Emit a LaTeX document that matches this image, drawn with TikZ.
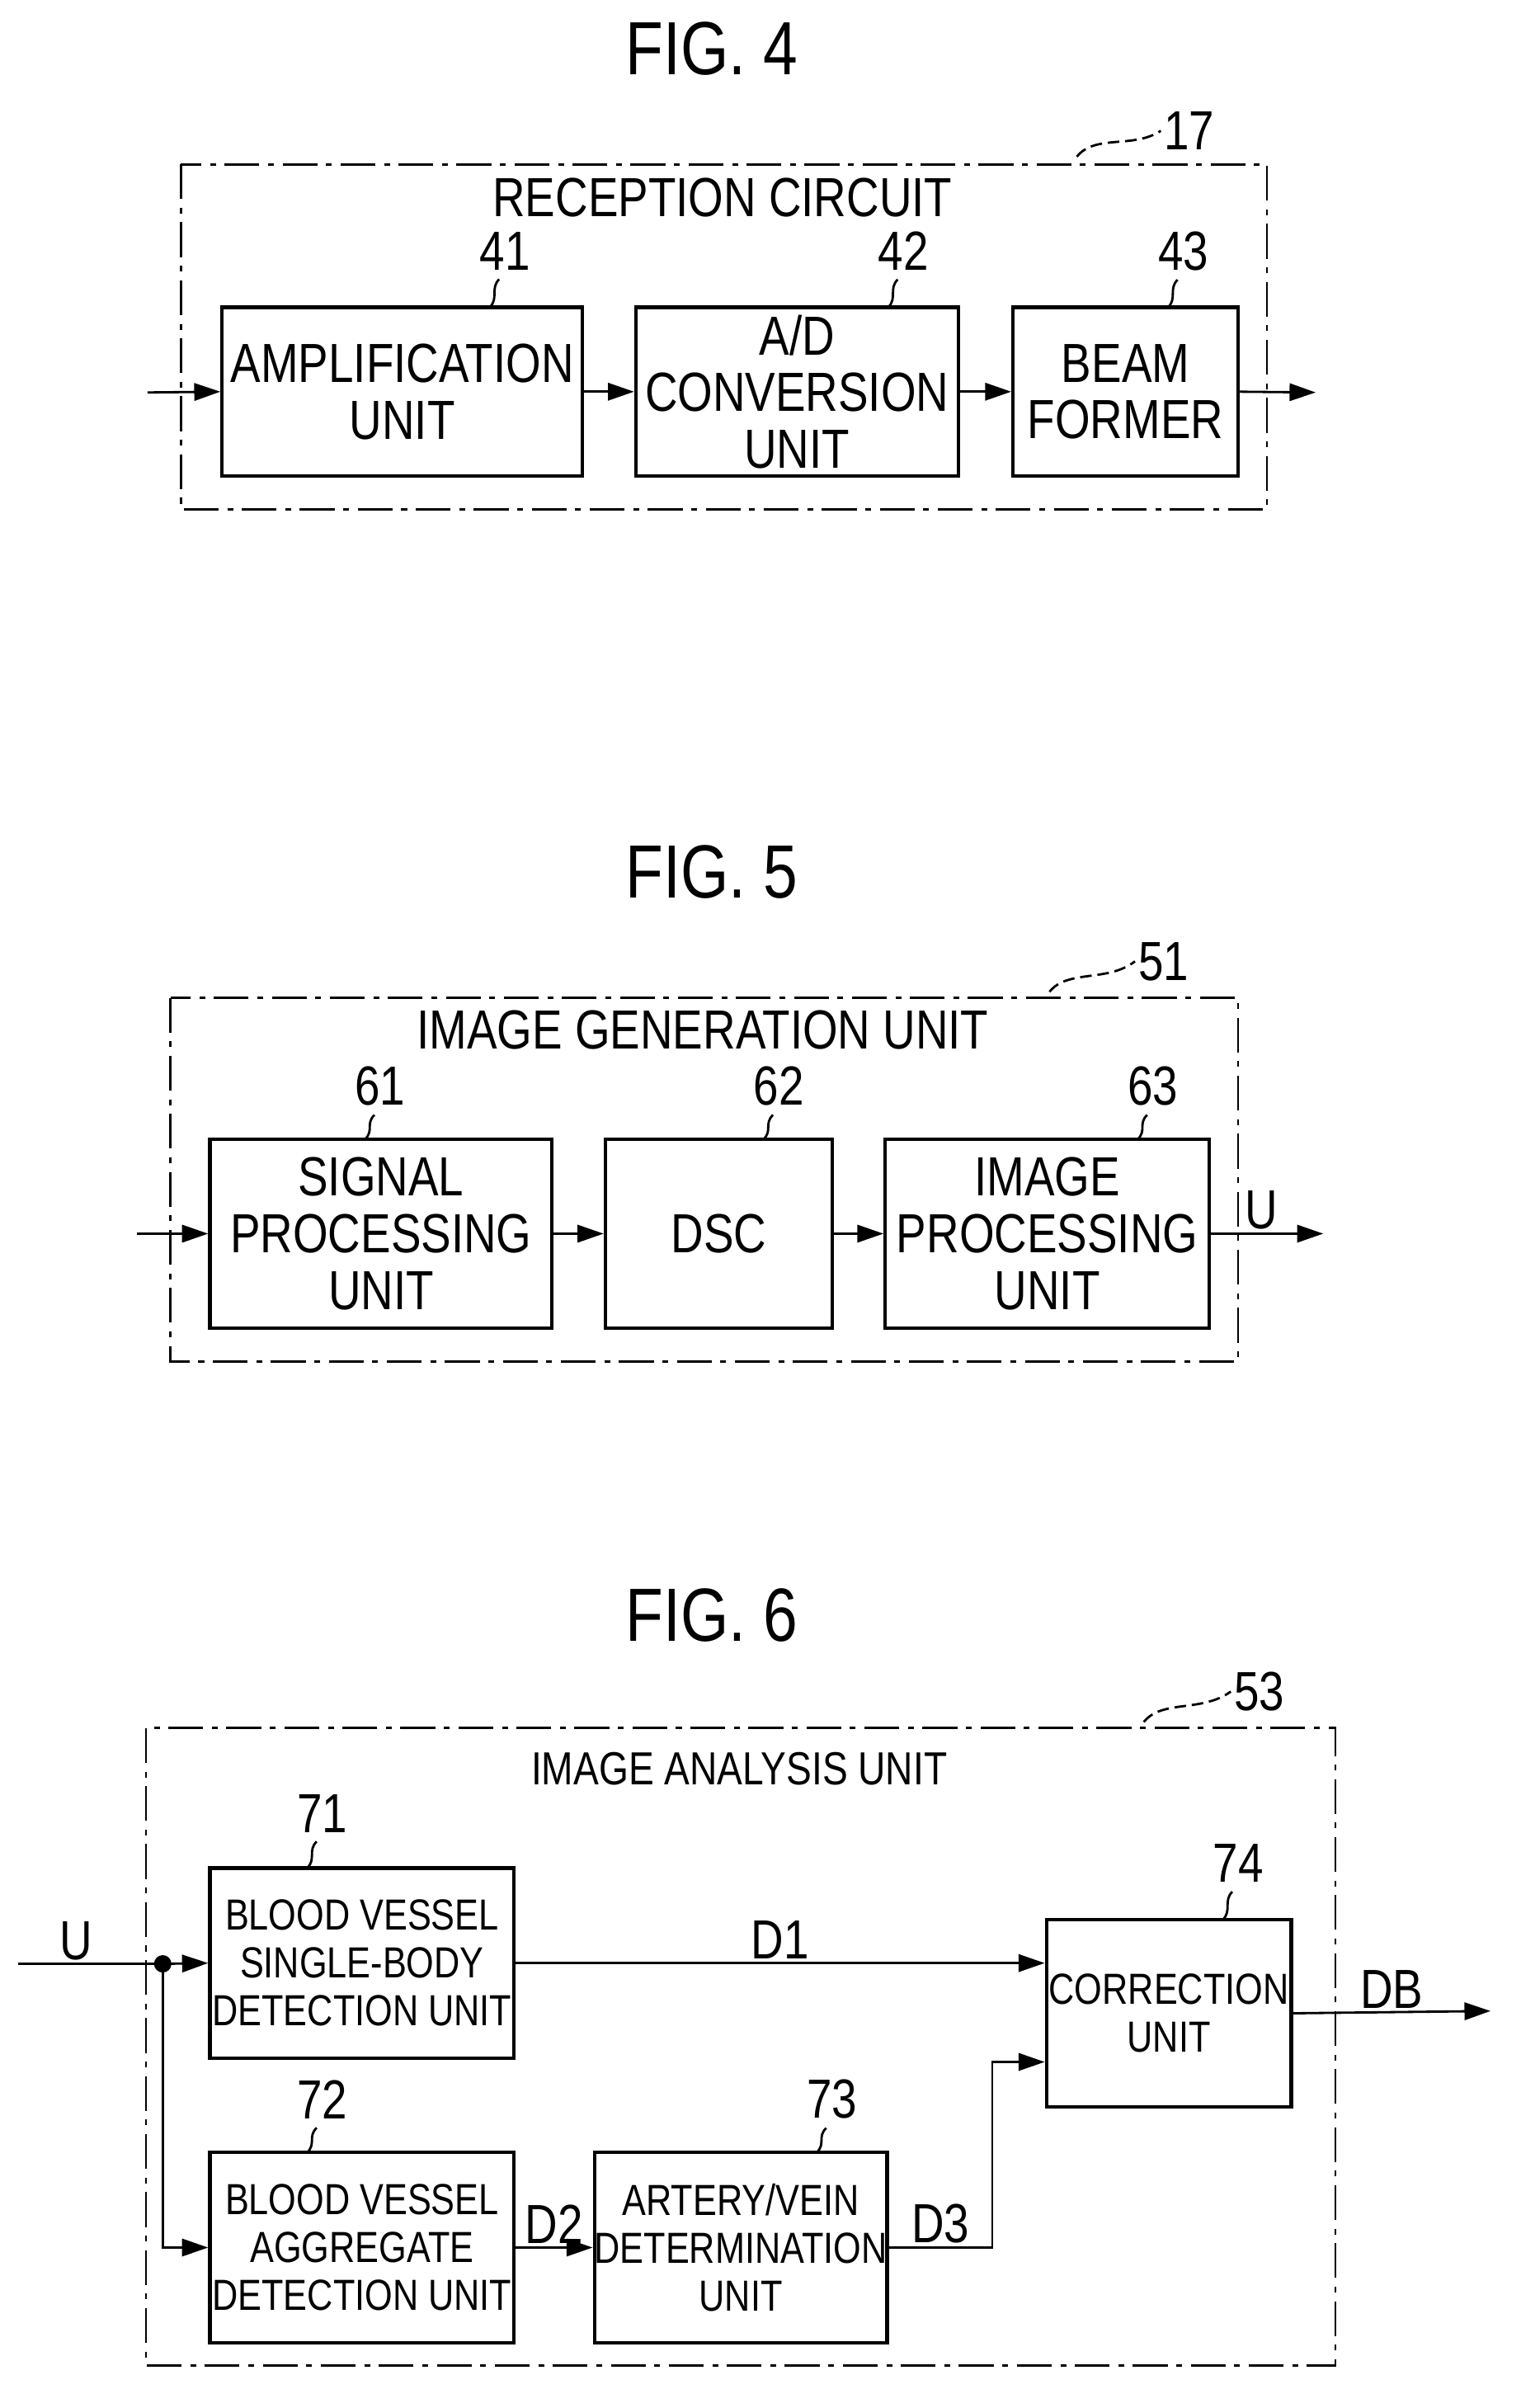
\documentclass[tikz,border=0pt]{standalone}
\usepackage{fontspec}
\setmainfont{Liberation Sans}[FakeStretch=0.82]
\usetikzlibrary{arrows.meta,positioning,calc}
\newcommand{\px}{0.01844cm}
\tikzset{
	x=\px, y=-\px,
	block/.style={
		rectangle, draw, very thick, inner sep=0pt, align=center,
		font=\fontsize{19}{19.5}\selectfont
	},
	%
	sblock/.style={
		block, font=\fontsize{15}{16.5}\selectfont
	},
	%
	frame/.style={
		draw, thick, dash pattern=on 12pt off 3pt on 2pt off 3pt
	},
	%
	lbl/.style={
		inner sep=1pt, font=\fontsize{19}{19}\selectfont
	},
	%
	sig/.style={
		-{Triangle[length=9pt,width=6pt]}, thick
	},
	%
	title/.style={
		font=\fontsize{26}{26}\selectfont
	}
}
\newcommand{\lead}[2]{% wavy leader from number (#1) down to box (#2)
	\draw[thick] ([xshift=-2pt,yshift=-2pt]#1.south) .. controls +(-6,6) and +(6,-6) .. (#2);
}
\begin{document}
\begin{tikzpicture}
    \useasboundingbox (0,0) rectangle (1000,1583);
    % FIG. 4
    \node(F4)[title] at (468,32){FIG. 4};
    \draw[frame] (119,108) rectangle (833,335);
    \node(N17)[lbl] at (782,86){17};
    \draw[thick, dash pattern=on 4pt off 2pt] (708,103) .. controls (720,88) and (745,98) .. (N17.west);
    \node(RC)[lbl] at (475,130){RECEPTION CIRCUIT};
    \node(Amp)[block, minimum width=237*\px, minimum height=111*\px] at (264.5,257.5){AMPLIFICATION\\UNIT};
    \node(AD)[block, minimum width=212*\px, minimum height=111*\px] at (524,257.5){A/D\\CONVERSION\\UNIT};
    \node(BF)[block, minimum width=148*\px, minimum height=111*\px] at (740,257.5){BEAM\\FORMER};
    \node(N41)[lbl] at (332,165){41};
    \node(N42)[lbl] at (594,165){42};
    \node(N43)[lbl] at (778,165){43};
    \lead{N41}{322,202}
    \lead{N42}{584,202}
    \lead{N43}{768,202}
    \coordinate(In4) at (97,258);
    \coordinate(Out4) at (865,258);
    \draw[sig] (In4) -- (Amp.west);
    \draw[sig] (Amp.east) -- (AD.west);
    \draw[sig] (AD.east) -- (BF.west);
    \draw[sig] (BF.east) -- (Out4);
    % FIG. 5
    \node(F5)[title] at (468,573){FIG. 5};
    \draw[frame] (112,656) rectangle (814,895);
    \node(N51)[lbl] at (765,632){51};
    \draw[thick, dash pattern=on 4pt off 2pt] (690,652) .. controls (702,637) and (728,646) .. (N51.west);
    \node(IGU)[lbl] at (462,677){IMAGE GENERATION UNIT};
    \node(SP)[block, minimum width=225*\px, minimum height=124*\px] at (250.5,811){SIGNAL\\PROCESSING\\UNIT};
    \node(DSC)[block, minimum width=149*\px, minimum height=124*\px] at (472.5,811){DSC};
    \node(IP)[block, minimum width=213*\px, minimum height=124*\px] at (688.5,811){IMAGE\\PROCESSING\\UNIT};
    \node(N61)[lbl] at (250,714){61};
    \node(N62)[lbl] at (512,714){62};
    \node(N63)[lbl] at (758,714){63};
    \lead{N61}{240,749}
    \lead{N62}{502,749}
    \lead{N63}{748,749}
    \coordinate(In5) at (90,811);
    \coordinate(Out5) at (870,811);
    \draw[sig] (In5) -- (SP.west);
    \draw[sig] (SP.east) -- (DSC.west);
    \draw[sig] (DSC.east) -- (IP.west);
    \draw[sig] (IP.east) -- node[lbl, above, pos=0.45]{U} (Out5);
    % FIG. 6
    \node(F6)[title] at (468,1062){FIG. 6};
    \draw[frame] (96,1136) rectangle (878,1555);
    \node(N53)[lbl] at (828,1112){53};
    \draw[thick, dash pattern=on 4pt off 2pt] (752,1132) .. controls (764,1117) and (790,1126) .. (N53.west);
    \node(IAU)[lbl, font=\fontsize{16}{16}\selectfont] at (486,1163){IMAGE ANALYSIS UNIT};
    \node(BVS)[sblock, minimum width=200*\px, minimum height=125*\px] at (238,1290.5){BLOOD VESSEL\\SINGLE-BODY\\DETECTION UNIT};
    \node(BVA)[sblock, minimum width=200*\px, minimum height=125*\px] at (238,1477.5){BLOOD VESSEL\\AGGREGATE\\DETECTION UNIT};
    \node(AV)[sblock, minimum width=190*\px, minimum height=125*\px] at (487,1477.5){ARTERY/VEIN\\DETERMINATION\\UNIT};
    \node(CU)[sblock, minimum width=161*\px, minimum height=123*\px] at (768.5,1323.5){CORRECTION\\UNIT};
    \node(N71)[lbl] at (212,1192){71};
    \node(N72)[lbl] at (212,1380){72};
    \node(N73)[lbl] at (547,1380){73};
    \node(N74)[lbl] at (814,1225){74};
    \lead{N71}{202,1228}
    \lead{N72}{202,1415}
    \lead{N73}{537,1415}
    \lead{N74}{804,1262}
    \coordinate(In6) at (12,1291);
    \coordinate(Br) at (107,1291);
    \coordinate(Out6) at (980,1322);
    \draw[thick] (In6) -- node[lbl, above, pos=0.4]{U} (Br);
    \fill (Br) circle (3pt);
    \draw[sig] (Br) -- (BVS.west);
    \draw[sig] (Br) |- (BVA.west);
    \draw[sig] (BVS.east) -- node[lbl, above]{D1} (BVS.east -| CU.west);
    \draw[sig] (BVA.east) -- node[lbl, above]{D2} (AV.west);
    \draw[sig] (AV.east) -- node[lbl, above]{D3} ++(68,0) |- ([yshift=-32*\px]CU.west);
    \draw[sig] (CU.east) -- node[lbl, above]{DB} (Out6);
\end{tikzpicture}
\end{document}
